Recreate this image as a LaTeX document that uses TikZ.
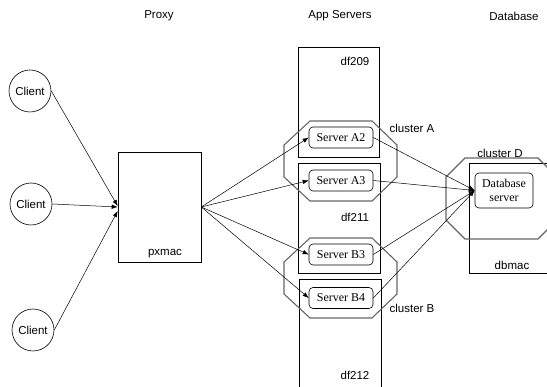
\documentclass[tikz,border=0pt]{standalone}
\usepackage{fontspec}
\setmainfont{Liberation Serif}
\setsansfont{Liberation Sans}
\usetikzlibrary{arrows.meta,calc}
\begin{document}
\begin{tikzpicture}[x=1pt,y=-1pt,
  lbl/.style={font=\sffamily\fontsize{11.5}{13}\selectfont, inner sep=0pt},
  client/.style={draw, circle, minimum size=42pt, inner sep=0pt, line width=0.6pt, font=\sffamily\fontsize{11.5}{13}\selectfont},
  hostbox/.style={draw, rectangle, line width=0.6pt, inner sep=0pt},
  server/.style={draw, rounded corners=4pt, line width=0.6pt, minimum width=64pt, minimum height=21pt, inner sep=0pt, font=\rmfamily\fontsize{12}{13}\selectfont},
  cluster/.style={draw=black!60, line width=1.1pt},
  conn/.style={line width=0.5pt, -{Latex[length=6pt,width=4.5pt]}}
]
\useasboundingbox (0,0) rectangle (547,387);

% headings
\node[lbl] (hproxy) at (159,16) {Proxy};
\node[lbl] (happ) at (340,16) {App Servers};
\node[lbl] (hdb) at (514,16) {Database};

% host boxes
\node[hostbox, minimum width=83pt, minimum height=110pt] (px) at (159.5,207) {};
\node[lbl] (pxl) at (165,254) {pxmac};
\node[hostbox, minimum width=81pt, minimum height=110pt] (df209) at (338.5,102) {};
\node[lbl] (df209l) at (355,61) {df209};
\node[hostbox, minimum width=82pt, minimum height=110pt] (df211) at (339,218) {};
\node[lbl] (df211l) at (355,217) {df211};
\node[hostbox, minimum width=82pt, minimum height=116pt] (df212) at (340,337) {};
\node[lbl] (df212l) at (355,375) {df212};
\node[hostbox, minimum width=92pt, minimum height=110pt] (dbmac) at (515,218) {};
\node[lbl] (dbmacl) at (512,265) {dbmac};

% clusters
\draw[cluster] (310,121) -- (372,121) -- (397,145) -- (397,177) -- (372,201) -- (310,201) -- (284,177) -- (284,145) -- cycle;
\node[lbl] (cla) at (412,128) {cluster A};
\draw[cluster] (310,238) -- (372,238) -- (397,262) -- (397,294) -- (372,318) -- (310,318) -- (284,294) -- (284,262) -- cycle;
\node[lbl] (clb) at (412,308) {cluster B};
\draw[cluster] (465,158) -- (538,158) -- (557,177) -- (557,220) -- (538,239) -- (465,239) -- (446,220) -- (446,177) -- cycle;
\node[lbl] (cld) at (500,153) {cluster D};

% clients
\node[client] (c1) at (30,91) {Client};
\node[client] (c2) at (31,204) {Client};
\node[client] (c3) at (33,330) {Client};

% servers
\node[server, fill=white] (a2) at (341,137.5) {Server A2};
\node[server, fill=white] (a3) at (341,180.5) {Server A3};
\node[server, fill=white] (b3) at (341,254.5) {Server B3};
\node[server, fill=white] (b4) at (341,298) {Server B4};
\node[server, fill=white, minimum width=58pt, minimum height=35pt, align=center, font=\rmfamily\fontsize{12}{14}\selectfont] (db) at (504,190.5) {Database\\server};

% connectors
\draw[conn] (c1.east) -- ($(px.west)+(0,-1)$);
\draw[conn] (c2.east) -- (px.west);
\draw[conn] (c3.east) -- ($(px.west)+(0,4)$);
\draw[conn] (px.east) -- (a2.west);
\draw[conn] (px.east) -- (a3.west);
\draw[conn] (px.east) -- (b3.west);
\draw[conn] (px.east) -- (b4.west);
\draw[conn] (a2.east) -- (db.west);
\draw[conn] (a3.east) -- (db.west);
\draw[conn] (b3.east) -- (db.west);
\draw[conn] (b4.east) -- (db.west);
\end{tikzpicture}
\end{document}
